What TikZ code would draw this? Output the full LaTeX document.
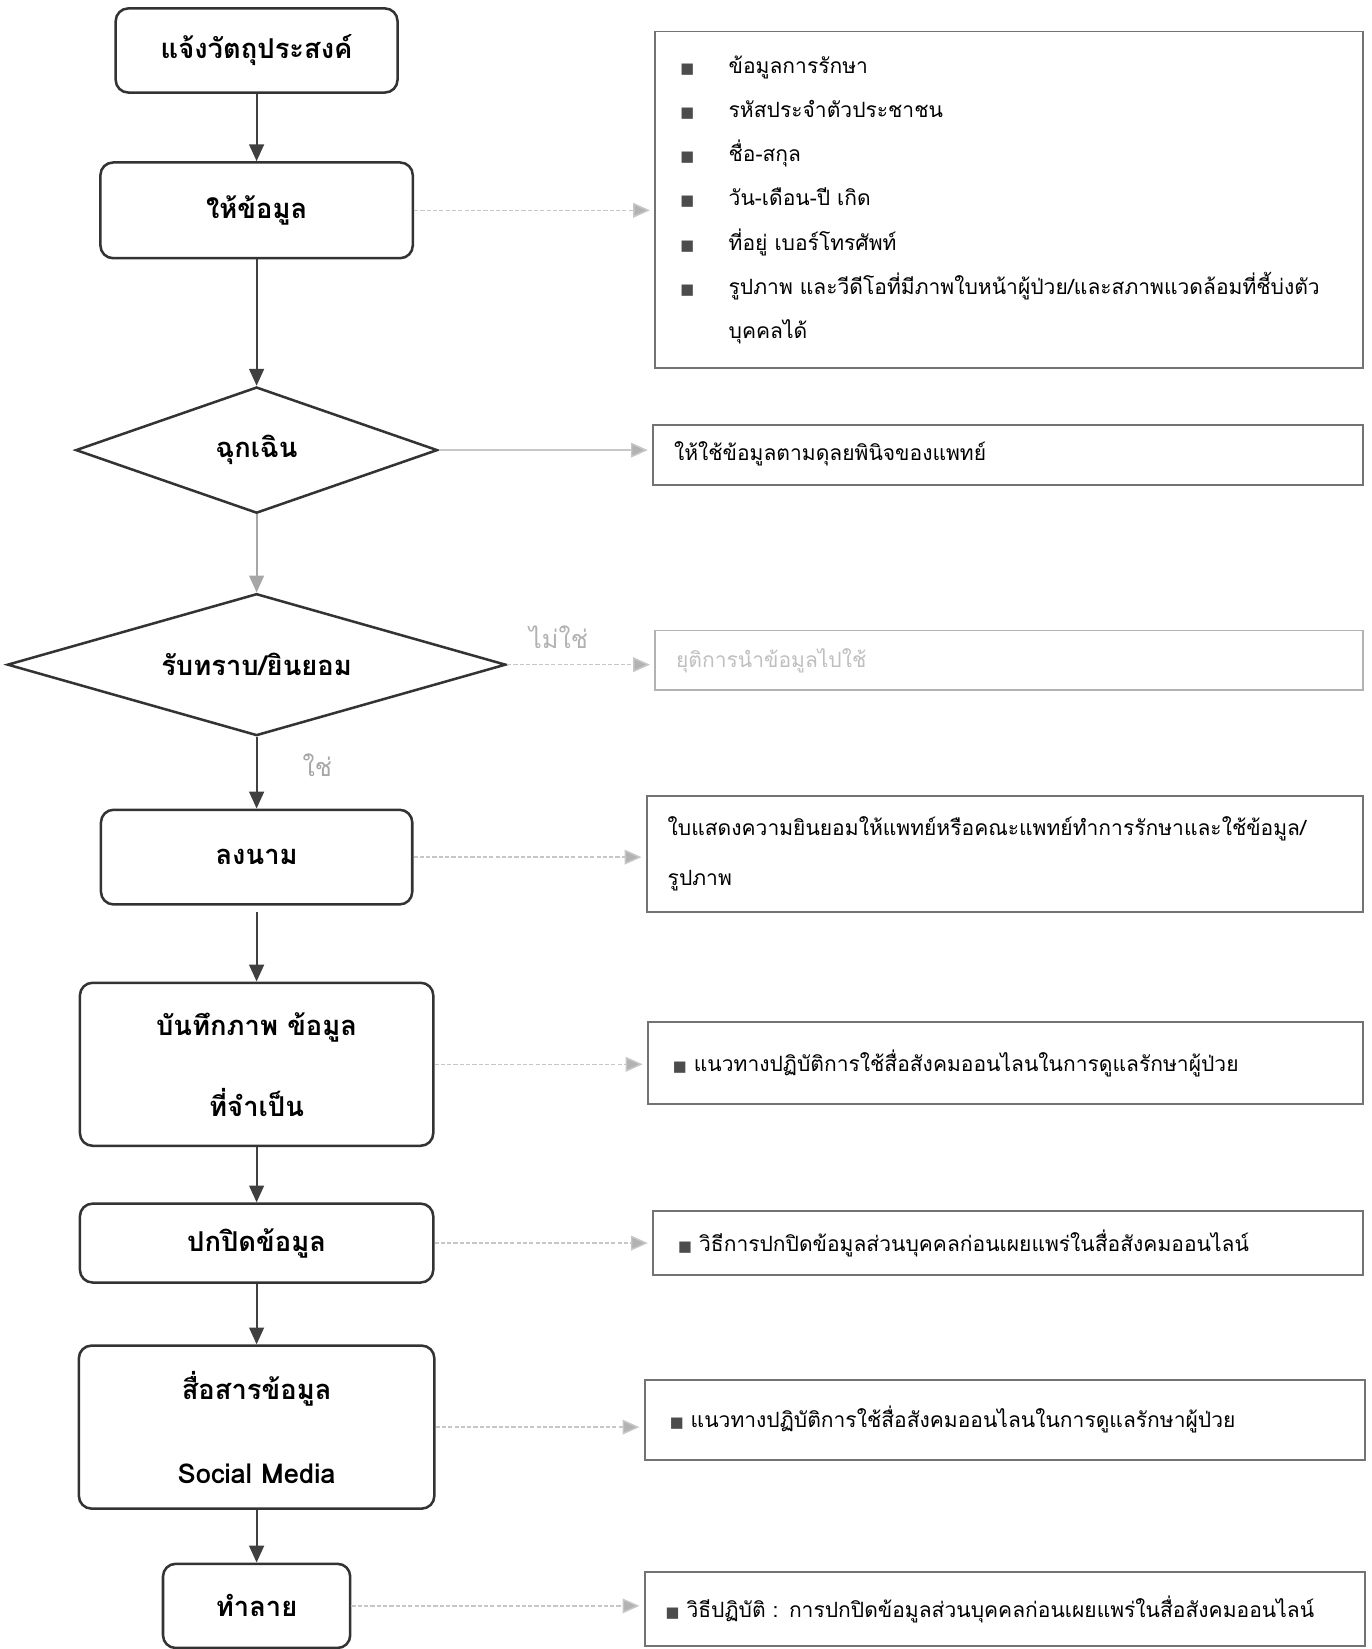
\documentclass[tikz,border=0pt]{standalone}
\usepackage{fontspec}
\setmainfont{Loma}[Script=Thai]
\newfontfamily\symfont{DejaVu Sans}
\usetikzlibrary{shapes.geometric,arrows.meta}
\newcommand{\sqbul}{{\symfont\fontsize{7}{7}\selectfont\textcolor{black!70}{■}}}

\begin{document}
\begin{tikzpicture}[
    x=0.5pt, y=-0.5pt,
    flow/.style={draw=black!80, line width=1.2pt, rounded corners=6pt, align=center,
      inner sep=0pt, font=\bfseries\fontsize{13}{16}\selectfont},
    choice/.style={diamond, draw=black!80, line width=1.2pt, inner sep=0pt,
      font=\bfseries\fontsize{13}{16}\selectfont},
    note/.style={draw=black!55, line width=0.9pt, anchor=west, align=left,
      inner xsep=10pt, inner ysep=0pt, font=\fontsize{10}{21}\selectfont},
    arr/.style={draw=black!75, line width=1pt, -{Triangle[width=7pt,length=8pt]}},
    hint/.style={draw=black!22, line width=0.7pt, dash pattern=on 2pt off 1pt,
      -{Triangle[width=7pt,length=8pt,fill=black!30]}, shorten >=2pt}
  ]
  \useasboundingbox (0,0) rectangle (1304,1568);

  \node[flow, minimum width=134pt, minimum height=40pt] (obj) at (244,48) {แจ้งวัตถุประสงค์};
  \node[flow, minimum width=148.5pt, minimum height=45.5pt] (give) at (244,200) {ให้ข้อมูล};
  \node[choice, aspect=2.87, minimum width=172pt, minimum height=60pt] (emerg) at (244,428) {ฉุกเฉิน};
  \node[choice, aspect=3.5, minimum width=237pt, minimum height=67.5pt] (agree) at (244,632) {รับทราบ/ยินยอม};
  \node[flow, minimum width=148pt, minimum height=45pt] (sign) at (244,815) {ลงนาม};
  \node[flow, minimum width=168pt, minimum height=77.5pt] (rec) at (244,1012)
    {บันทึกภาพ ข้อมูล\\[21pt]ที่จำเป็น};
  \node[flow, minimum width=168pt, minimum height=37.5pt] (hide) at (244,1182) {ปกปิดข้อมูล};
  \node[flow, minimum width=169pt, minimum height=77.5pt] (comm) at (244,1357)
    {สื่อสารข้อมูล\\[24pt]Social Media};
  \node[flow, minimum width=89pt, minimum height=40pt] (dest) at (244,1527) {ทำลาย};

  \node[note, inner xsep=12pt, minimum height=160pt, text width=312.5pt] (list) at (622,190) {
    \makebox[23pt][l]{\sqbul}ข้อมูลการรักษา\\
    \makebox[23pt][l]{\sqbul}รหัสประจำตัวประชาชน\\
    \makebox[23pt][l]{\sqbul}ชื่อ-สกุล\\
    \makebox[23pt][l]{\sqbul}วัน-เดือน-ปี เกิด\\
    \makebox[23pt][l]{\sqbul}ที่อยู่ เบอร์โทรศัพท์\\
    \makebox[23pt][l]{\sqbul}รูปภาพ และวีดีโอที่มีภาพใบหน้าผู้ป่วย/และสภาพแวดล้อมที่ชี้บ่งตัว\\
    \hspace*{23pt}บุคคลได้};
  \node[note, minimum height=28.5pt, text width=317.5pt] (judge) at (620,433)
    {\raisebox{4pt}{ให้ใช้ข้อมูลตามดุลยพินิจของแพทย์}};
  \node[note, minimum height=28.5pt, text width=316.5pt, draw=black!30, text=black!25] (stop) at (622,628)
    {ยุติการนำข้อมูลไปใช้};
  \node[note, minimum height=55.5pt, text width=320.5pt] (form) at (614,812)
    {ใบแสดงความยินยอมให้แพทย์หรือคณะแพทย์ทำการรักษาและใช้ข้อมูล/\\[2.5pt]รูปภาพ};
  \node[note, inner xsep=12pt, minimum height=39pt, text width=316pt] (guide) at (615,1011)
    {\sqbul\ แนวทางปฏิบัติการใช้สื่อสังคมออนไลนในการดูแลรักษาผู้ป่วย};
  \node[note, inner xsep=12pt, minimum height=30.5pt, text width=313.5pt] (mask) at (620,1182)
    {\sqbul\ วิธีการปกปิดข้อมูลส่วนบุคคลก่อนเผยแพร่ในสื่อสังคมออนไลน์};
  \node[note, inner xsep=12pt, minimum height=38pt, text width=318.5pt] (guide2) at (612,1350)
    {\sqbul\ แนวทางปฏิบัติการใช้สื่อสังคมออนไลนในการดูแลรักษาผู้ป่วย};
  \node[note, minimum height=35pt, text width=322.5pt] (howto) at (612,1530)
    {\sqbul\ วิธีปฏิบัติ : การปกปิดข้อมูลส่วนบุคคลก่อนเผยแพร่ในสื่อสังคมออนไลน์};

  \draw[arr] (obj) -- (give);
  \draw[arr] (give) -- (emerg);
  \draw[arr, draw=black!35] (emerg) -- (agree);
  \draw[arr] (agree) -- (sign)
    node[pos=0.4, right=18pt, font=\fontsize{12}{14}\selectfont, text=black!35] {ใช่};
  \draw[arr, shorten <=3pt] (sign) -- (rec);
  \draw[arr] (rec) -- (hide);
  \draw[arr] (hide) -- (comm);
  \draw[arr] (comm) -- (dest);

  \draw[hint] (give.east) -- (give.east -| list.west);
  \draw[hint, solid] (emerg.east) -- (emerg.east -| judge.west);
  \draw[hint] (agree.east) -- (agree.east -| stop.west)
    node[pos=0.35, above=4pt, font=\fontsize{12}{14}\selectfont, text=black!30] {ไม่ใช่};
  \draw[hint] (sign.east) -- (sign.east -| form.west);
  \draw[hint] (rec.east) -- (rec.east -| guide.west);
  \draw[hint] (hide.east) -- (hide.east -| mask.west);
  \draw[hint] (comm.east) -- (comm.east -| guide2.west);
  \draw[hint] (dest.east) -- (dest.east -| howto.west);
\end{tikzpicture}
\end{document}
